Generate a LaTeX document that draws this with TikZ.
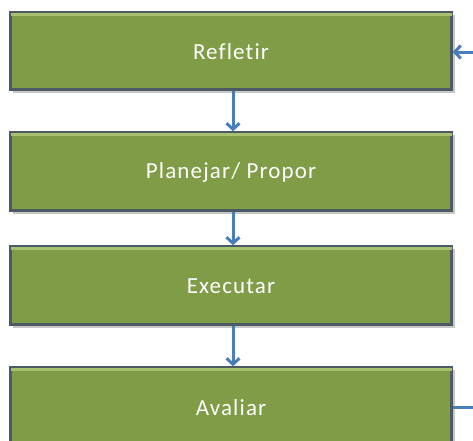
\documentclass[tikz,border=0pt]{standalone}
\usepackage{fontspec}
\setmainfont{Carlito}[LetterSpace=5,Ligatures={NoCommon}]
\usetikzlibrary{arrows.meta}
\definecolor{boxgreen}{HTML}{809C46}
\definecolor{boxedge}{HTML}{4B5A63}
\definecolor{boxhi}{HTML}{A6C26E}
\definecolor{arrowblue}{HTML}{4A7EBB}
\begin{document}
\begin{tikzpicture}[x=1pt,y=1pt,
  stepbox/.style={draw=boxedge, line width=2.4pt, fill=boxgreen,
    minimum width=441pt, minimum height=77pt, inner sep=0pt},
  steptext/.style={text=white, font=\fontsize{23}{26}\selectfont},
  conn/.style={draw=arrowblue, line width=3pt, -{Straight Barb[length=6pt,width=13pt]}},
  plain/.style={draw=arrowblue, line width=3pt}]
\useasboundingbox (0,0) rectangle (473,-440);
\fill[black!22] (13,-15) rectangle (455,-93);
\fill[black!22] (13,-135) rectangle (455,-214);
\fill[black!22] (13,-249) rectangle (455,-328);
\fill[black!22] (13,-370) rectangle (455,-449);
\node[stepbox] (r) at (231,-51) {};
\node[stepbox, minimum height=78pt] (p) at (231,-171.5) {};
\node[stepbox, minimum height=78pt] (e) at (231,-285.5) {};
\node[stepbox, minimum height=78pt] (a) at (231,-406.5) {};
\foreach \n in {r,p,e,a}{
  \fill[boxhi] ([xshift=1.2pt,yshift=-1.2pt]\n.north west) rectangle ([xshift=-1.2pt,yshift=-4.5pt]\n.north east);
}
\node[steptext] (rt) at ([yshift=-1pt]r.center) {Refletir};
\node[steptext] (pt) at ([yshift=-1pt]p.center) {Planejar/ Propor};
\node[steptext] (et) at ([yshift=-1pt]e.center) {Executar};
\node[steptext] (at) at ([yshift=-1pt]a.center) {Avaliar};
\coordinate (in) at (473,-52);
\coordinate (out) at (473,-407);
\draw[conn] ([xshift=2pt]r.south) -- ([xshift=2pt]p.north);
\draw[conn] ([xshift=2pt]p.south) -- ([xshift=2pt]e.north);
\draw[conn] ([xshift=2pt]e.south) -- ([xshift=2pt]a.north);
\draw[conn] (in) -- (r.east |- in);
\draw[plain] (a.east |- out) -- (out);
\end{tikzpicture}
\end{document}
